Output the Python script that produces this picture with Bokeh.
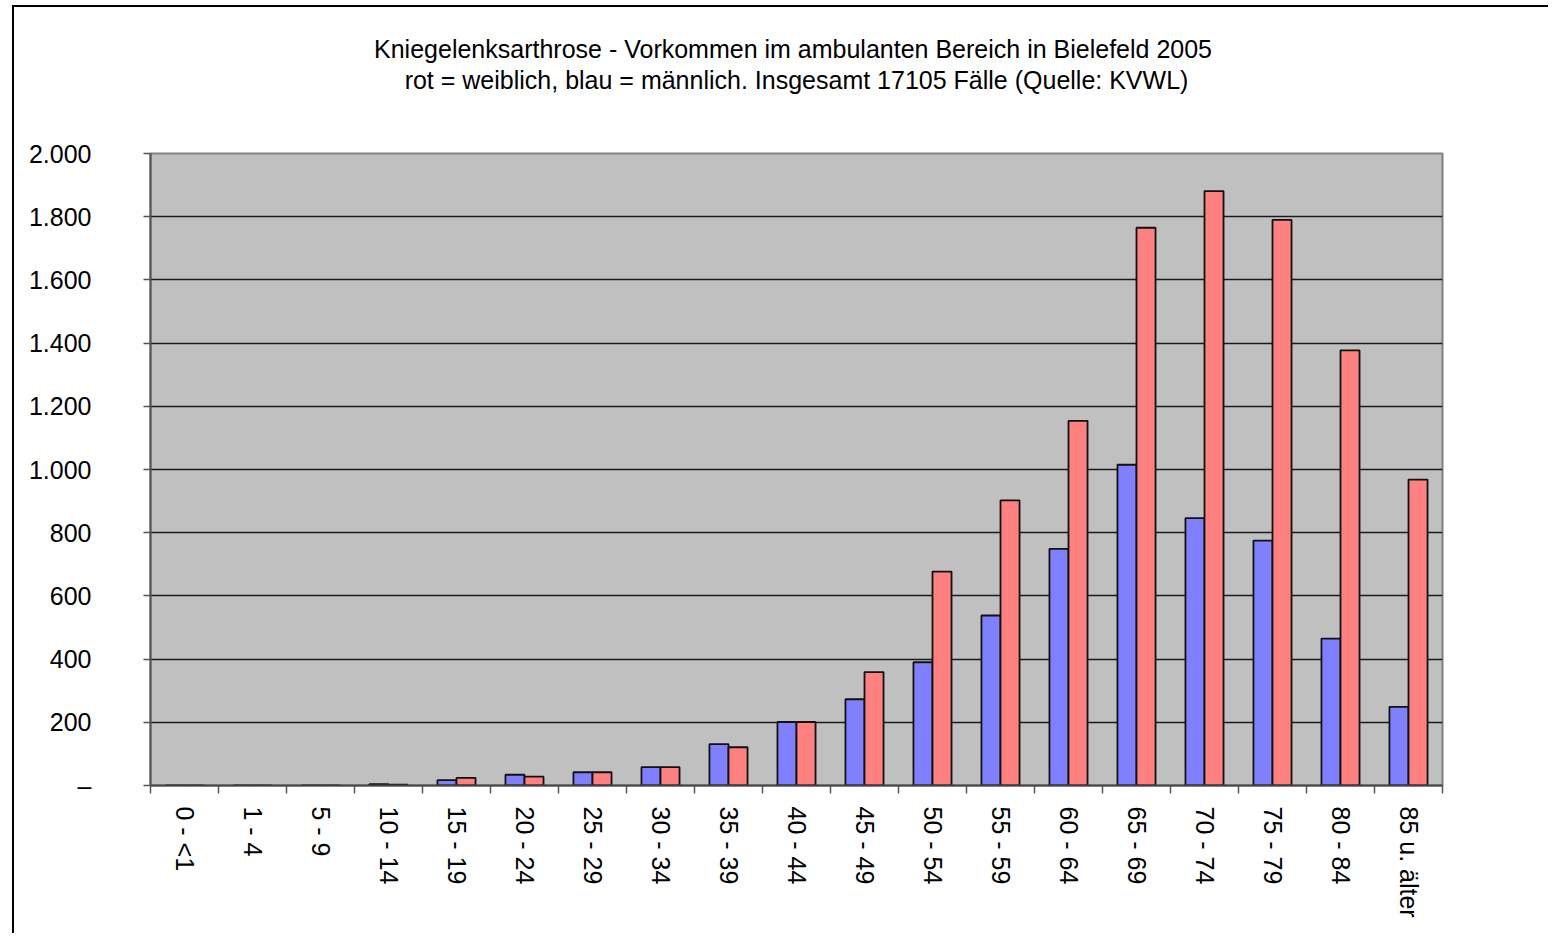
import numpy as np
from bokeh.plotting import figure
from bokeh.models import Range1d, FixedTicker, Title
from bokeh.embed import file_html
from bokeh.resources import INLINE

# ---- data ----
age_groups = ["0 - <1", "1 - 4", "5 - 9", "10 - 14", "15 - 19", "20 - 24", "25 - 29",
              "30 - 34", "35 - 39", "40 - 44", "45 - 49", "50 - 54", "55 - 59",
              "60 - 64", "65 - 69", "70 - 74", "75 - 79", "80 - 84", "85 u. älter"]
male = [0, 0, 0, 4, 17, 34, 42, 58, 131, 201, 273, 390, 538, 749, 1015, 846, 775, 465, 249]
female = [0, 0, 0, 3, 24, 28, 42, 58, 121, 201, 359, 677, 902, 1154, 1765, 1881, 1790, 1377, 968]
y_ticks = [0, 200, 400, 600, 800, 1000, 1200, 1400, 1600, 1800, 2000]
y_tick_labels = ["–", "200", "400", "600", "800", "1.000", "1.200", "1.400", "1.600", "1.800", "2.000"]
title_lines = ["Kniegelenksarthrose - Vorkommen im ambulanten Bereich in  Bielefeld 2005",
               "rot = weiblich, blau = männlich. Insgesamt 17105 Fälle (Quelle: KVWL)"]

FONT = "Liberation Sans"
n = len(age_groups)
idx = np.arange(n)

p = figure(width=1536, height=928, output_backend="svg", toolbar_location=None,
           x_range=Range1d(-0.5, n - 0.5), y_range=Range1d(0, 2000),
           min_border_left=136, min_border_right=108, min_border_top=146, min_border_bottom=150)
p.background_fill_color = "#C0C0C0"
p.border_fill_color = "white"
p.outline_line_color = "#808080"
p.outline_line_width = 2

bw = 0.28
p.vbar(x=idx - bw / 2, top=male, width=bw, bottom=0, fill_color="#8080FF",
       line_color="#111111", line_width=1.8)
p.vbar(x=idx + bw / 2, top=female, width=bw, bottom=0, fill_color="#FF8080",
       line_color="#111111", line_width=1.8)

# x axis: labels at centres, tick marks at category boundaries
xa = p.xaxis[0]
xa.ticker = FixedTicker(ticks=list(idx), minor_ticks=list(np.arange(n + 1) - 0.5))
xa.major_label_overrides = {int(i): lab for i, lab in zip(idx, age_groups)}
xa.major_tick_out = 0
xa.major_tick_in = 0
xa.minor_tick_out = 8
xa.minor_tick_in = 0
xa.minor_tick_line_color = "#555555"
xa.minor_tick_line_width = 1.5
xa.axis_line_color = "#444444"
xa.axis_line_width = 2
xa.major_label_orientation = -np.pi / 2
xa.major_label_standoff = 13
xa.major_label_text_font = FONT
xa.major_label_text_font_size = "25px"
xa.major_label_text_color = "black"

ya = p.yaxis[0]
ya.ticker = FixedTicker(ticks=y_ticks)
ya.major_label_overrides = {t: lab for t, lab in zip(y_ticks, y_tick_labels)}
ya.major_tick_out = 7
ya.major_tick_in = 0
ya.minor_tick_out = 0
ya.minor_tick_in = 0
ya.major_tick_line_color = "#555555"
ya.major_tick_line_width = 1.5
ya.axis_line_color = "#555555"
ya.axis_line_width = 2
ya.major_label_standoff = 52
ya.major_label_text_font = FONT
ya.major_label_text_font_size = "25px"
ya.major_label_text_color = "black"

p.xgrid.visible = False
p.ygrid.ticker = FixedTicker(ticks=y_ticks)
p.ygrid.grid_line_color = "#1a1a1a"
p.ygrid.grid_line_width = 1.3

# panels above are stacked outward from the frame: spacer, then line 2, then line 1
p.add_layout(Title(text=" ", text_font=FONT, text_font_size="10px", standoff=46), "above")
p.add_layout(Title(text=title_lines[1], align="center", offset=-20, standoff=1,
                   text_font=FONT, text_font_size="25px", text_font_style="normal",
                   text_color="black"), "above")
p.add_layout(Title(text=title_lines[0], align="center", offset=-20, standoff=1,
                   text_font=FONT, text_font_size="25px", text_font_style="normal",
                   text_color="black"), "above")

p.styles = {"margin-left": "12px", "margin-top": "5px",
            "border-left": "2px solid black", "border-top": "2px solid black"}

open("out.html", "w").write(file_html(p, INLINE))
